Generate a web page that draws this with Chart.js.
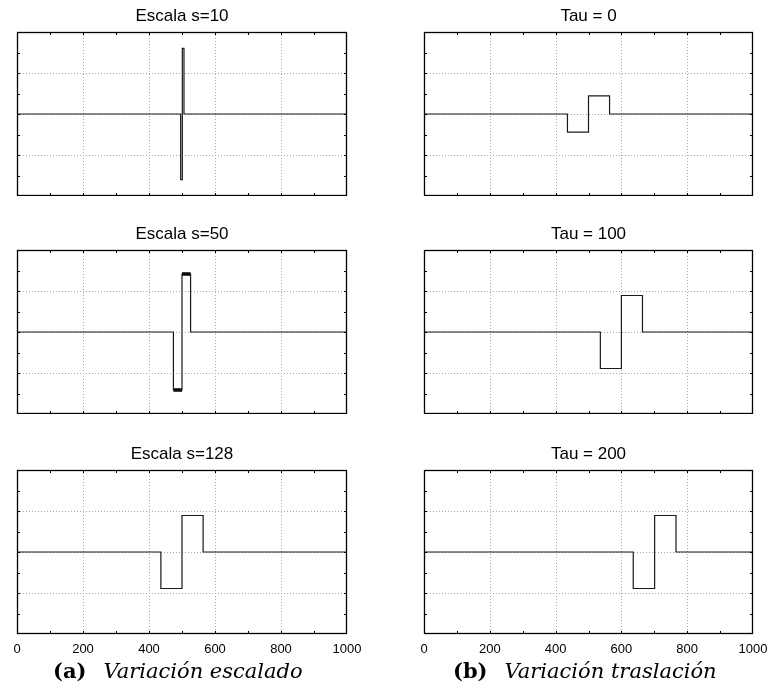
<!DOCTYPE html>
<html>
<head>
<meta charset="utf-8">
<script src="https://cdn.jsdelivr.net/npm/chart.js@4"></script>
<style>
    body { margin: 0; background: #fff; width: 769px; height: 695px; position: relative; overflow: hidden; }
    .panel { position: absolute; }
    .caption { position: absolute; top: 658px; font-family: "DejaVu Serif", serif; font-size: 21px; line-height: normal; white-space: nowrap; color: #000; }
    .caption b { margin-right: 17px; }
</style>
</head>
<body>
<div class="panel" id="p0"><canvas id="c0"></canvas></div>
<div class="panel" id="p1"><canvas id="c1"></canvas></div>
<div class="panel" id="p2"><canvas id="c2"></canvas></div>
<div class="panel" id="p3"><canvas id="c3"></canvas></div>
<div class="panel" id="p4"><canvas id="c4"></canvas></div>
<div class="panel" id="p5"><canvas id="c5"></canvas></div>
<div class="caption" style="left:53px"><b>(a)</b><i>Variación escalado</i></div>
<div class="caption" style="left:453px"><b>(b)</b><i>Variación traslación</i></div>
<script>
// tick / grid values
const xLabels = [0, 200, 400, 600, 800, 1000];
const xMinorTicks = [100, 200, 300, 400, 500, 600, 700, 800, 900];
const yMinorTicks = [-3, -2, -1, 0, 1, 2, 3];
const xGrid = [200, 400, 600, 800];
const yGrid = [-2, 0, 2];

const titles = ["Escala s=10", "Escala s=50", "Escala s=128", "Tau = 0", "Tau = 100", "Tau = 200"];

// step edges (x) and level after each edge (y)
const escala10X = [0, 496, 501, 506, 1000];
const escala10Y = [0, -3.2, 3.2, 0, 0];
const escala50X = [0, 474, 500, 526, 1000];
const escala50Y = [0, -2.83, 2.83, 0, 0];
const escala128X = [0, 436, 500, 564, 1000];
const escala128Y = [0, -1.78, 1.78, 0, 0];
const tau0X = [0, 436, 500, 564, 1000];
const tau0Y = [0, -0.88, 0.88, 0, 0];
const tau100X = [0, 536, 600, 664, 1000];
const tau100Y = [0, -1.78, 1.78, 0, 0];
const tau200X = [0, 636, 701, 766, 1000];
const tau200Y = [0, -1.78, 1.78, 0, 0];

const panels = [
    { xs: escala10X, ys: escala10Y, col: 0, row: 0 },
    { xs: escala50X, ys: escala50Y, col: 0, row: 1, thick: true },
    { xs: escala128X, ys: escala128Y, col: 0, row: 2 },
    { xs: tau0X, ys: tau0Y, col: 1, row: 0 },
    { xs: tau100X, ys: tau100Y, col: 1, row: 1 },
    { xs: tau200X, ys: tau200Y, col: 1, row: 2 },
];

const plotLeft = [17, 424];
const plotWidth = [330, 329];
const plotTop = [32, 250, 470];
const plotHeight = 164;
const titleBox = 26;
const axisBox = 26;
const sidePad = 25;

const boxPlugin = {
    id: "box",
    beforeDatasetsDraw(chart) {
        const { ctx, chartArea: a, scales } = chart;
        ctx.save();
        ctx.strokeStyle = "#a8a8a8";
        ctx.lineWidth = 1;
        ctx.setLineDash([1, 2]);
        xGrid.forEach((v) => {
            const px = Math.round(scales.x.getPixelForValue(v)) + 0.5;
            ctx.beginPath();
            ctx.moveTo(px, a.top);
            ctx.lineTo(px, a.bottom);
            ctx.stroke();
        });
        yGrid.forEach((v) => {
            const py = Math.round(scales.y.getPixelForValue(v)) + 0.5;
            ctx.beginPath();
            ctx.moveTo(a.left, py);
            ctx.lineTo(a.right, py);
            ctx.stroke();
        });
        ctx.restore();
    },
    afterDatasetsDraw(chart) {
        const { ctx, chartArea: a, scales } = chart;
        const tl = 3;
        ctx.save();
        ctx.strokeStyle = "#000";
        ctx.lineWidth = 1;
        ctx.beginPath();
        xMinorTicks.forEach((v) => {
            const px = Math.round(scales.x.getPixelForValue(v)) + 0.5;
            ctx.moveTo(px, a.top);
            ctx.lineTo(px, a.top + tl);
            ctx.moveTo(px, a.bottom);
            ctx.lineTo(px, a.bottom - tl);
        });
        yMinorTicks.forEach((v) => {
            const py = Math.round(scales.y.getPixelForValue(v)) + 0.5;
            ctx.moveTo(a.left, py);
            ctx.lineTo(a.left + tl, py);
            ctx.moveTo(a.right, py);
            ctx.lineTo(a.right - tl, py);
        });
        ctx.stroke();
        ctx.lineWidth = 1.3;
        ctx.strokeRect(a.left + 0.5, a.top + 0.5, a.width - 1, a.height - 1);
        ctx.restore();
    },
};

panels.forEach((p, i) => {
    const bottom = p.row === 2;
    const div = document.getElementById("p" + i);
    div.style.left = plotLeft[p.col] - sidePad + "px";
    div.style.top = plotTop[p.row] - titleBox + "px";
    div.style.width = plotWidth[p.col] + 2 * sidePad + "px";
    div.style.height = titleBox + plotHeight + (bottom ? axisBox : 0) + "px";

    const datasets = [
        {
            data: p.xs.map((x, k) => ({ x: x, y: p.ys[k] })),
            stepped: "before",
            borderColor: "#1a1a1a",
            borderWidth: 1.2,
            pointRadius: 0,
            fill: false,
        },
    ];
    if (p.thick) {
        // dense flat tops drawn as heavier bars
        const barData = [];
        for (let k = 1; k < p.xs.length - 1; k++) {
            if (p.ys[k] !== 0) {
                barData.push({ x: p.xs[k], y: p.ys[k] }, { x: p.xs[k + 1], y: p.ys[k] }, { x: p.xs[k + 1], y: null });
            }
        }
        datasets.push({
            data: barData,
            borderColor: "#000",
            borderWidth: 3.5,
            pointRadius: 0,
            spanGaps: false,
            fill: false,
        });
    }

    const xScale = {
        type: "linear",
        min: 0,
        max: 1000,
        display: bottom,
        grid: { display: false, drawTicks: false },
        border: { display: false },
        ticks: {
            stepSize: 200,
            autoSkip: false,
            maxRotation: 0,
            padding: 8,
            color: "#000",
            font: { family: "Liberation Sans", size: 13 },
            callback: (v) => (xLabels.includes(v) ? String(v) : ""),
        },
    };
    if (bottom) xScale.afterFit = (s) => { s.height = axisBox; };

    new Chart(document.getElementById("c" + i), {
        type: "line",
        data: { datasets: datasets },
        options: {
            responsive: true,
            maintainAspectRatio: false,
            animation: false,
            events: [],
            layout: { padding: { left: sidePad, right: sidePad, top: 0, bottom: 0 } },
            scales: {
                x: xScale,
                y: { min: -4, max: 4, display: false },
            },
            plugins: {
                legend: { display: false },
                tooltip: { enabled: false },
                title: {
                    display: true,
                    text: titles[i],
                    color: "#000",
                    font: { family: "Liberation Sans", size: 17, weight: "normal", lineHeight: "20px" },
                    padding: { top: 0, bottom: 6 },
                },
            },
        },
        plugins: [boxPlugin],
    });
});
</script>
</body>
</html>
